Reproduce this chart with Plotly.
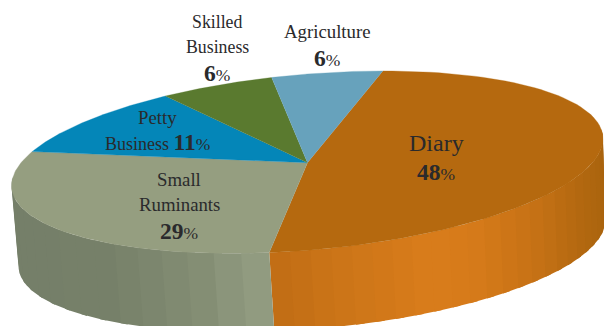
import numpy as np
import plotly.graph_objects as go

categories = ["Diary", "Small Ruminants", "Petty Business", "Skilled Business", "Agriculture"]
values = [48, 29, 11, 6, 6]
top_colors = ["#b5690f", "#959e80", "#0486b8", "#5a7a2f", "#67a2bc"]

# Projection of the unit-circle pie on to the page (tilted, with perspective)
H = [73.035332, 286.840238, 307.510279, -92.211212, 0.051683, 162.708633, -0.006167, 0.00254]
DEPTH = 81
RIM_X_SCALE = 0.9923
RIM_X_SHIFT = 7.1
RIM_Y_SCALE = 0.975
SERIF = "Liberation Serif"
INK = "#2a2a2c"


def top(theta):
    c, s = np.cos(theta), np.sin(theta)
    w = H[6] * c + H[7] * s + 1
    return (H[0] * c + H[1] * s + H[2]) / w, (H[3] * c + H[4] * s + H[5]) / w


def bottom(theta):
    x, y = top(theta)
    return RIM_X_SCALE * x + RIM_X_SHIFT, H[5] + RIM_Y_SCALE * (y - H[5]) + DEPTH


def hex_rgb(h):
    return np.array([int(h[i:i + 2], 16) for i in (1, 3, 5)], float)


def shade(x, xs, cols):
    rgb = [np.interp(x, xs, [hex_rgb(c)[k] for c in cols]) for k in range(3)]
    return "rgb(%d,%d,%d)" % tuple(rgb)


cum = np.radians(np.cumsum([0] + values) * 3.6)
fig = go.Figure()


def poly(xs, ys, color, width=0.0):
    fig.add_trace(go.Scatter(
        x=xs, y=ys, mode="lines", fill="toself", fillcolor=color,
        line=dict(color=color, width=width), hoverinfo="skip", showlegend=False,
    ))


def side(a, b, n, xs, cols):
    """Rim bands from angle a down to angle b, each running slightly under the next."""
    edges = np.linspace(a, b, n + 1)
    for t0, t1 in zip(edges[:-1], edges[1:]):
        th = np.linspace(t0, max(t1 - 0.03, b), 8)
        tx, ty = top(th)
        bx, by = bottom(th)
        poly(np.r_[tx, bx[::-1]], np.r_[ty, by[::-1]],
             shade(tx[:-1].mean(), xs, cols))


# Extruded rim: only the part facing the viewer is drawn
side(cum[1], np.radians(68), 26,
     [270, 340, 430, 480, 530, 570, 604],
     ["#c06d15", "#cc7518", "#da7d1c", "#d57a1a", "#c87316", "#b86b12", "#aa640e"])
side(np.radians(262), cum[1], 16,
     [11, 110, 200, 270],
     ["#757f69", "#77816a", "#848e74", "#96a085"])

# Top face
for i, col in enumerate(top_colors):
    th = np.linspace(cum[i], cum[i + 1], 90)
    x, y = top(th)
    poly(np.r_[H[2], x], np.r_[H[5], y], col, 0.3)


# Labels: (text, x, y, size)
def num(v):
    return "<b>%d</b><span style='font-size:17.5px'>%%</span>" % v


lines = [
    ("Skilled", 217, 22, 17.8),
    ("Business", 217, 47, 17.8),
    (num(values[3]), 217, 73, 23.5),
    ("Agriculture", 327, 31, 18.8),
    (num(values[4]), 327, 58, 23.5),
    (categories[0], 436, 143, 24),
    (num(values[0]), 436, 172, 23.5),
    ("Petty", 157, 117, 18.8),
    ("Business <b style='font-size:23.5px'>%d</b><span style='font-size:17.5px'>%%</span>" % values[2], 157, 142, 18),
    ("Small", 179, 179, 18.8),
    ("Ruminants", 179, 204, 18.8),
    (num(values[1]), 179, 231, 23.5),
]
for text, x, y, size in lines:
    fig.add_annotation(x=x, y=y, text=text, showarrow=False, xanchor="center", yanchor="middle",
                       font=dict(family=SERIF, size=size, color=INK))

fig.update_layout(
    width=604, height=326, margin=dict(l=0, r=0, t=0, b=0),
    paper_bgcolor="white", plot_bgcolor="white", showlegend=False,
    xaxis=dict(range=[0, 604], visible=False, fixedrange=True),
    yaxis=dict(range=[326, 0], visible=False, fixedrange=True),
)
fig.write_html("out.html", config=dict(displayModeBar=False),
               post_script="document.body.style.margin='0';document.documentElement.style.overflow='hidden';")
